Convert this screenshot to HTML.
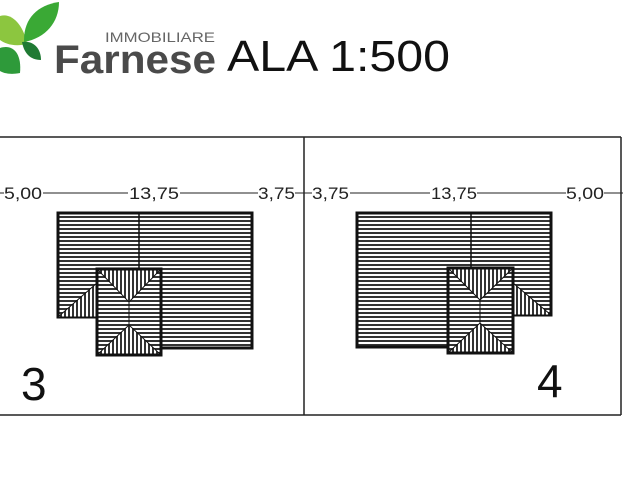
<!DOCTYPE html>
<html><head><meta charset="utf-8"><style>
html,body{margin:0;padding:0;background:#fff;width:640px;height:480px;overflow:hidden}
svg{display:block}
</style></head><body>
<svg width="640" height="480" viewBox="0 0 640 480" xmlns="http://www.w3.org/2000/svg" font-family="Liberation Sans, sans-serif">
<defs>
<pattern id="h" width="8" height="4" patternUnits="userSpaceOnUse"><rect width="8" height="4" fill="#fff"/><rect y="0" width="8" height="2" fill="#333"/></pattern>
<pattern id="v" width="4" height="8" patternUnits="userSpaceOnUse"><rect width="4" height="8" fill="#fff"/><rect x="0" width="2" height="8" fill="#333"/></pattern>
</defs>
<path d="M0,16 C12,12 24,26 27,44 C15,47 5,44 0,40Z" fill="#8cc63f"/>
<path d="M24,40 C24,18 38,5 59,2 C59,22 46,38 24,42Z" fill="#3aa935"/>
<path d="M0,48 C12,44 22,52 20,73 C10,75 3,73 0,71Z" fill="#2e9a3a"/>
<path d="M22,42 C33,40 41,48 41,60 C30,60 24,53 22,42Z" fill="#1f7a33"/>
<text x="105" y="42" font-size="14" fill="#666" textLength="110" lengthAdjust="spacingAndGlyphs">IMMOBILIARE</text>
<text x="54" y="73" font-size="40" font-weight="bold" fill="#4a4a4a" textLength="162" lengthAdjust="spacingAndGlyphs">Farnese</text>
<text x="227" y="71" font-size="44" fill="#111" textLength="223" lengthAdjust="spacingAndGlyphs">ALA 1:500</text>
<g stroke="#222" fill="none" stroke-width="1.5">
<line x1="0" y1="137" x2="621" y2="137"/>
<line x1="0" y1="415" x2="621" y2="415"/>
<line x1="304" y1="137" x2="304" y2="415"/>
<line x1="621" y1="137" x2="621" y2="415"/>
</g>
<g stroke="#222" stroke-width="1">
<line x1="0" y1="193" x2="4" y2="193"/>
<line x1="43" y1="193" x2="128" y2="193"/>
<line x1="180" y1="193" x2="258" y2="193"/>
<line x1="295" y1="193" x2="312" y2="193"/>
<line x1="350" y1="193" x2="430" y2="193"/>
<line x1="477" y1="193" x2="566" y2="193"/>
<line x1="604" y1="193" x2="623" y2="193"/>
</g>
<g font-size="17" fill="#222">
<text x="4" y="199" textLength="38" lengthAdjust="spacingAndGlyphs">5,00</text>
<text x="129" y="199" textLength="50" lengthAdjust="spacingAndGlyphs">13,75</text>
<text x="258" y="199" textLength="37" lengthAdjust="spacingAndGlyphs">3,75</text>
<text x="312" y="199" textLength="37" lengthAdjust="spacingAndGlyphs">3,75</text>
<text x="431" y="199" textLength="46" lengthAdjust="spacingAndGlyphs">13,75</text>
<text x="566" y="199" textLength="38" lengthAdjust="spacingAndGlyphs">5,00</text>
</g>
<polygon points="58,213 252,213 252,348 161,348 161,317 58,317" fill="url(#h)" stroke="#111" stroke-width="3"/>
<line x1="139" y1="213" x2="139" y2="269" stroke="#111" stroke-width="1.5"/>
<polygon points="58,317 97,317 97,283" fill="url(#v)" stroke="#111" stroke-width="1"/>
<rect x="97" y="269" width="64" height="86" fill="url(#h)"/>
<polygon points="97,269 161,269 129,302" fill="url(#v)" stroke="#111" stroke-width="1"/>
<polygon points="97,355 161,355 129,325" fill="url(#v)" stroke="#111" stroke-width="1"/>
<line x1="129" y1="302" x2="129" y2="325" stroke="#111" stroke-width="1"/>
<rect x="97" y="269" width="64" height="86" fill="none" stroke="#111" stroke-width="3"/>
<text x="21" y="400" font-size="46" fill="#111">3</text>
<polygon points="357,213 551,213 551,315 513,315 513,347 357,347" fill="url(#h)" stroke="#111" stroke-width="3"/>
<line x1="471" y1="213" x2="471" y2="268" stroke="#111" stroke-width="1.5"/>
<polygon points="551,315 513,315 513,283" fill="url(#v)" stroke="#111" stroke-width="1"/>
<rect x="448" y="268" width="65" height="85" fill="url(#h)"/>
<polygon points="448,268 513,268 480,300" fill="url(#v)" stroke="#111" stroke-width="1"/>
<polygon points="448,353 513,353 480,323" fill="url(#v)" stroke="#111" stroke-width="1"/>
<line x1="480" y1="300" x2="480" y2="323" stroke="#111" stroke-width="1"/>
<rect x="448" y="268" width="65" height="85" fill="none" stroke="#111" stroke-width="3"/>
<text x="537" y="397" font-size="46" fill="#111">4</text>
</svg>
</body></html>
